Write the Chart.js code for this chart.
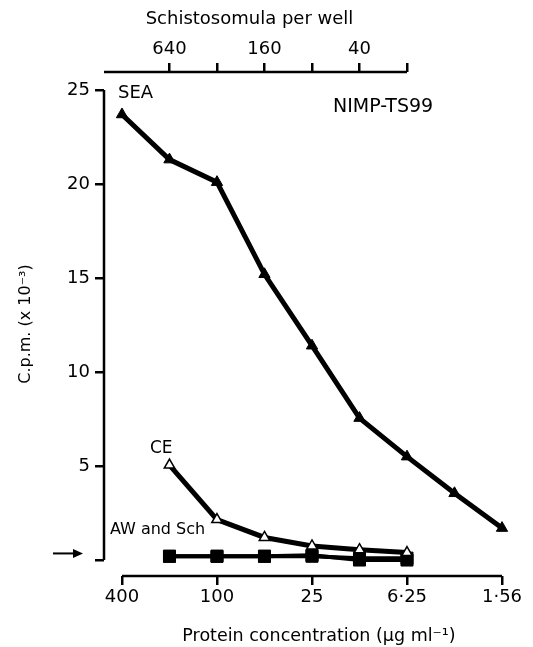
<!DOCTYPE html>
<html>
<head>
<meta charset="utf-8">
<script src="https://cdn.jsdelivr.net/npm/chart.js@4.4.1/dist/chart.umd.min.js"></script>
<style>
  html, body { margin: 0; padding: 0; background: #fff; }
  canvas { display: block; }
</style>
</head>
<body>
<canvas id="chart" width="533" height="647"></canvas>
<script>
// protein concentration, two-fold dilutions (µg/ml)
const conc = [400, 200, 100, 50, 25, 12.5, 6.25, 3.125, 1.5625];
const seaCpm = [23.7, 21.3, 20.1, 15.2, 11.4, 7.55, 5.5, 3.55, 1.7];
const ceConc = [200, 100, 50, 25, 12.5, 6.25];
const ceCpm = [5.05, 2.15, 1.2, 0.75, 0.55, 0.4];
const awCpm = [0.2, 0.2, 0.2, 0.2, 0.1, 0.1];
const schCpm = [0.2, 0.2, 0.2, 0.25, 0.0, 0.0];

// axis ticks
const xTicks = [400, 100, 25, 6.25, 1.5625];
const xTickLabels = ['400', '100', '25', '6·25', '1·56'];
const topTicks = [200, 100, 50, 25, 12.5, 6.25];         // same concentration scale
const topTickLabels = ['640', '', '160', '', '40', ''];   // schistosomula per well
const yTicks = [0, 5, 10, 15, 20, 25];

const FONT = '"DejaVu Sans", sans-serif';
const ink = '#000';

const pts = (xs, ys) => ys.map((v, i) => ({ x: xs[i], y: v }));

// axis lines only run between their end ticks; arrow, axis titles and series labels
const extras = {
  id: 'extras',
  afterDraw(chart) {
    const { ctx, chartArea: a, scales: { x, y, xTop } } = chart;
    const bx0 = x.getPixelForValue(xTicks[0]);
    const bx1 = x.getPixelForValue(xTicks[xTicks.length - 1]);
    const tx1 = xTop.getPixelForValue(topTicks[topTicks.length - 1]);
    ctx.save();
    ctx.strokeStyle = ink;
    ctx.lineWidth = 2.5;
    ctx.beginPath();
    ctx.moveTo(a.left, y.getPixelForValue(0));
    ctx.lineTo(a.left, y.getPixelForValue(25));
    ctx.moveTo(bx0, a.bottom);
    ctx.lineTo(bx1, a.bottom);
    ctx.moveTo(a.left, a.top);
    ctx.lineTo(tx1, a.top);
    ctx.stroke();

    // background level arrow
    const ay = y.getPixelForValue(0.35);
    ctx.lineWidth = 2;
    ctx.beginPath();
    ctx.moveTo(a.left - 51, ay);
    ctx.lineTo(a.left - 28, ay);
    ctx.stroke();
    ctx.fillStyle = ink;
    ctx.beginPath();
    ctx.moveTo(a.left - 21, ay);
    ctx.lineTo(a.left - 31, ay - 4.5);
    ctx.lineTo(a.left - 31, ay + 4.5);
    ctx.closePath();
    ctx.fill();

    ctx.textBaseline = 'middle';
    ctx.textAlign = 'center';
    ctx.font = '18px ' + FONT;
    ctx.fillText('Schistosomula per well', (a.left + tx1) / 2 - 6, 19);
    ctx.font = '17.5px ' + FONT;
    ctx.fillText('Protein concentration (µg ml⁻¹)', (bx0 + bx1) / 2 + 7, 636);

    // series labels
    ctx.textAlign = 'left';
    const label = (t, cx, cy, size) => {
      ctx.font = size + 'px ' + FONT;
      ctx.fillText(t, x.getPixelForValue(cx), y.getPixelForValue(cy));
    };
    label('SEA', 424, 24.8, 18);
    label('NIMP-TS99', 18.4, 24.1, 19);
    label('CE', 266, 5.95, 17);
    label('AW and Sch', 477, 1.6, 16);
    ctx.restore();
  }
};

const tickFont = { family: FONT, size: 18 };

new Chart(document.getElementById('chart'), {
  type: 'line',
  data: {
    datasets: [
      { label: 'SEA', data: pts(conc, seaCpm), borderColor: ink, borderWidth: 5,
        pointStyle: 'triangle', pointRadius: 6.5, pointBackgroundColor: ink, pointBorderColor: ink, pointBorderWidth: 1 },
      { label: 'CE', data: pts(ceConc, ceCpm), borderColor: ink, borderWidth: 5,
        pointStyle: 'triangle', pointRadius: 6, pointBackgroundColor: '#fff', pointBorderColor: ink, pointBorderWidth: 1.5 },
      { label: 'AW', data: pts(ceConc, awCpm), borderColor: ink, borderWidth: 4,
        pointStyle: 'rect', pointRadius: 8.5, pointBackgroundColor: ink, pointBorderColor: ink, pointBorderWidth: 1 },
      { label: 'Sch', data: pts(ceConc, schCpm), borderColor: ink, borderWidth: 4,
        pointStyle: 'rect', pointRadius: 8.5, pointBackgroundColor: ink, pointBorderColor: ink, pointBorderWidth: 1 }
    ]
  },
  options: {
    responsive: false,
    animation: false,
    clip: false,
    layout: { padding: { left: 0, right: 31, top: 0, bottom: 0 } },
    elements: { line: { tension: 0, fill: false } },
    plugins: { legend: { display: false }, tooltip: { enabled: false } },
    scales: {
      x: {
        type: 'logarithmic', position: 'bottom', reverse: true,
        min: 1.5625, max: 520,
        afterFit: s => { s.height = 71; },
        afterBuildTicks: s => { s.ticks = xTicks.map(v => ({ value: v })); },
        grid: { drawOnChartArea: false, tickLength: 9, lineWidth: 2.5, color: ink },
        border: { display: false },
        ticks: { callback: (v, i) => xTickLabels[i], font: tickFont, color: ink, padding: 2, maxRotation: 0, autoSkip: false }
      },
      xTop: {
        type: 'logarithmic', position: 'top', reverse: true,
        min: 1.5625, max: 520,
        afterFit: s => { s.height = 72; },
        afterBuildTicks: s => { s.ticks = topTicks.map(v => ({ value: v })); },
        grid: { drawOnChartArea: false, tickLength: 9, lineWidth: 2.5, color: ink },
        border: { display: false },
        ticks: { callback: (v, i) => topTickLabels[i], font: tickFont, color: ink, padding: 3, maxRotation: 0, autoSkip: false }
      },
      y: {
        type: 'linear', position: 'left',
        min: -0.85, max: 25.96,
        afterFit: s => { s.width = 104; },
        afterBuildTicks: s => { s.ticks = yTicks.map(v => ({ value: v })); },
        grid: { drawOnChartArea: false, tickLength: 9, lineWidth: 2.5, color: ink },
        border: { display: false },
        ticks: { callback: v => (v === 0 ? '' : String(v)), font: tickFont, color: ink, padding: 5 },
        title: { display: true, text: 'C.p.m. (x 10⁻³)', color: ink,
                 font: { family: FONT, size: 16 }, padding: { top: 16, bottom: 0 } }
      }
    }
  },
  plugins: [extras]
});
</script>
</body>
</html>
